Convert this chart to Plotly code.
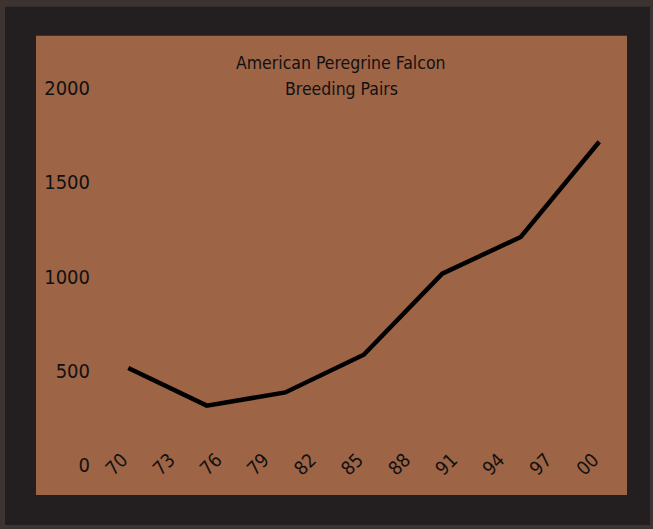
import plotly.graph_objects as go

# Breeding pairs of American peregrine falcons, 1970-2000
years = [1970, 1975, 1980, 1985, 1990, 1995, 2000]
pairs = [515, 315, 385, 585, 1015, 1210, 1715]

tick_years = [1970, 1973, 1976, 1979, 1982, 1985, 1988, 1991, 1994, 1997, 2000]
tick_text = ["70", "73", "76", "79", "82", "85", "88", "91", "94", "97", "00"]
y_ticks = [0, 500, 1000, 1500, 2000]

title_lines = ["American Peregrine Falcon", "Breeding Pairs"]

FONT = "DejaVu Sans Condensed, Liberation Sans Narrow, sans-serif"
INK = "#111111"
PANEL = "#9e6446"
FRAME = "#231f20"

W, H = 653, 529
L, R, T, B = 100, 33, 88.3, 64
pw, ph = W - L - R, H - T - B


def px_x(x):
    return (x - L) / pw


def px_y(y):
    return (H - B - y) / ph


fig = go.Figure()
fig.add_trace(go.Scatter(
    x=years, y=pairs, mode="lines",
    line=dict(color="#000000", width=4.5),
    hoverinfo="skip", showlegend=False,
))

# dark frame and brown panel behind the plot
fig.add_shape(type="rect", xref="paper", yref="paper", layer="below",
              x0=px_x(5), x1=px_x(650), y0=px_y(525), y1=px_y(7),
              fillcolor=FRAME, line_width=0)
fig.add_shape(type="rect", xref="paper", yref="paper", layer="below",
              x0=px_x(36), x1=px_x(627), y0=px_y(495), y1=px_y(36),
              fillcolor=PANEL, line_width=0)

for text, ypix in zip(title_lines, [63.3, 89.3]):
    fig.add_annotation(text=text, xref="paper", yref="paper",
                       x=px_x(341), y=px_y(ypix), xanchor="center", yanchor="middle",
                       showarrow=False, font=dict(family=FONT, size=17.5, color=INK))

fig.update_layout(
    width=W, height=H,
    margin=dict(l=L, r=R, t=T, b=B, pad=0),
    paper_bgcolor="#3d3330",
    plot_bgcolor="rgba(0,0,0,0)",
    font=dict(family=FONT, color=INK),
    xaxis=dict(
        range=[1968.2, 1968.2 + pw / 15.7],
        tickvals=tick_years, ticktext=tick_text, tickangle=-45,
        tickfont=dict(family=FONT, size=19, color=INK),
        showgrid=False, zeroline=False, showline=False, ticks="",
        anchor="free", position=px_y(444), ticklabelshift=-6,
    ),
    yaxis=dict(
        range=[0, 2000], tickvals=y_ticks,
        tickfont=dict(family=FONT, size=20, color=INK),
        showgrid=False, zeroline=False, showline=False, ticks="",
        ticklabelstandoff=9,
    ),
)

fig.write_html("out.html")
